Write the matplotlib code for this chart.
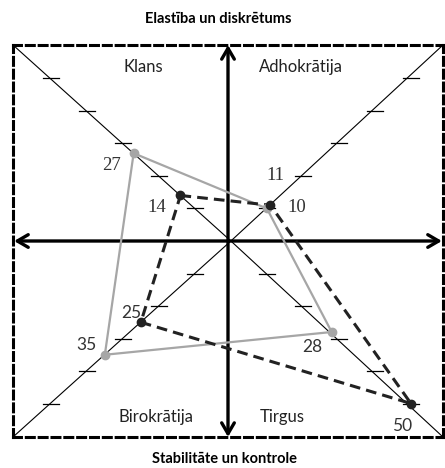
import numpy as np
from matplotlib import pyplot as plt

# kvadranti: augšā pa kreisi, augšā pa labi, lejā pa labi, lejā pa kreisi
signs = [(-1, 1), (1, 1), (1, -1), (-1, -1)]
quadrants = ["Klans", "Adhokrātija", "Tirgus", "Birokrātija"]

gray_values = [27, 10, 28, 35]
dark_values = [14, 11, 50, 25]

tick_values = [10, 20, 30, 40, 50]

title_top = "Elastība un diskrētums"
title_bottom = "Stabilitāte un kontrole"

# label offsets (pixels) for each point
gray_offsets = [(-22, -12), (30, 1), (-19, -15), (-18, 10)]
dark_offsets = [(-24, -12), (5, 30), (-9, -22), (-10, 9)]

xmin, xmax, ymin, ymax = -60.5, 58.9, -60.3, 60.3

fig = plt.figure(figsize=(4.45, 4.68), dpi=100)
ax = fig.add_axes([13/445, 1 - 437/468, 430/445, 392/468])
ax.set_xlim(xmin, xmax)
ax.set_ylim(ymin, ymax)
ax.set_xticks([])
ax.set_yticks([])
for s in ax.spines.values():
    s.set_linestyle((0, (2.6, 1.6)))
    s.set_linewidth(2.2)
    s.set_color("black")

# diagonals
corners = [(xmin, ymax), (xmax, ymax), (xmax, ymin), (xmin, ymin)]
for cx, cy in corners:
    ax.plot([0, cx], [0, cy], color="black", lw=0.8, zorder=1)

# ticks on diagonals
for sx, sy in signs:
    for v in tick_values:
        ax.plot([sx*v - 2.2, sx*v + 2.2], [sy*v, sy*v], color="black", lw=0.9, zorder=1)

# axis arrows
arrow = dict(arrowstyle="<->,head_length=0.6,head_width=0.35", lw=2.4, color="black",
             shrinkA=0, shrinkB=0, mutation_scale=13)
ax.annotate("", xy=(xmax - 0.3, 0), xytext=(xmin + 0.3, 0), arrowprops=arrow, zorder=2)
ax.annotate("", xy=(-0.8, ymax), xytext=(-0.8, ymin), arrowprops=arrow, zorder=2)

# quadrant names
qpos = [(-24.4, 53.5), (19.4, 53.5), (14.2, -54.0), (-20.8, -54.0)]
for name, (qx, qy) in zip(quadrants, qpos):
    ax.text(qx, qy, name, ha="center", va="center", fontsize=12,
            family="Lato", color="#222222")

def polygon(values, color, ls, lw, offsets, serif_flags):
    xs = [sx*v for (sx, sy), v in zip(signs, values)]
    ys = [sy*v for (sx, sy), v in zip(signs, values)]
    ax.plot(xs + xs[:1], ys + ys[:1], color=color, ls=ls, lw=lw, zorder=3)
    ax.plot(xs, ys, "o", color=color, ms=6, zorder=4)
    for x, y, v, off, serif in zip(xs, ys, values, offsets, serif_flags):
        ax.annotate(str(v), (x, y), xytext=off, textcoords="offset pixels",
                    ha="center", va="center", fontsize=13.5 if serif else 12.5,
                    family="Liberation Serif" if serif else "Lato",
                    color="#333333", zorder=5)

serif_flags = [True, True, False, False]
polygon(gray_values, "#a6a6a6", "-", 1.6, gray_offsets, serif_flags)
polygon(dark_values, "#222222", (0, (3.5, 2)), 2.2, dark_offsets, serif_flags)

fig.text(218/445, 1 - 19/468, title_top, ha="center", va="center",
         fontsize=10.5, fontweight="bold", family="Lato")
fig.text(224/445, 1 - 459/468, title_bottom, ha="center", va="center",
         fontsize=10.5, fontweight="bold", family="Lato")

plt.savefig("out.png", dpi=100)
plt.close()
